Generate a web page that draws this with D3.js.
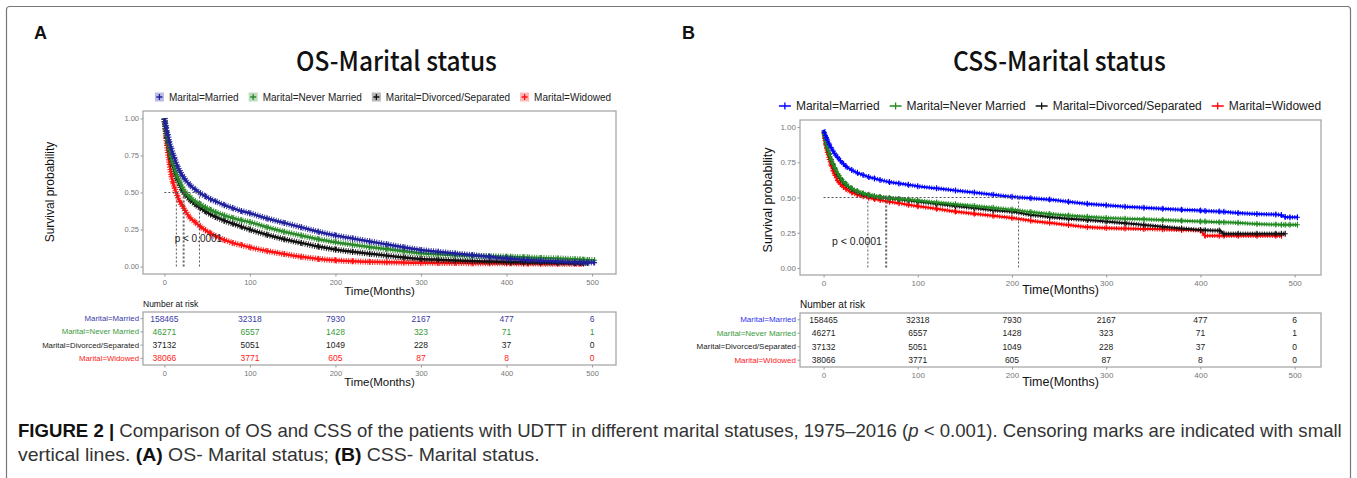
<!DOCTYPE html>
<html lang="en">
<head>
<meta charset="UTF-8">
<title>OS / CSS - Marital status</title>
<script src="https://cdnjs.cloudflare.com/ajax/libs/d3/7.8.5/d3.min.js"></script>
<style>
  html, body { margin: 0; padding: 0; background: #fff; }
  svg { display: block; font-family: "Liberation Sans", Arial, sans-serif; }
</style>
</head>
<body>
<svg id="chart" width="1357" height="478"></svg>
<script>
// ---------- data ----------
const groups = ["Marital=Married", "Marital=Never Married", "Marital=Divorced/Separated", "Marital=Widowed"];

// months at which survival was read
const timeGrid = [0, 1, 2, 3, 4, 6, 8, 10, 12, 15, 18, 21, 24, 30, 36, 42, 48, 54, 60, 70, 80, 90, 100,
  120, 140, 160, 180, 200, 220, 240, 260, 280, 300, 320, 340, 360, 380, 400, 405, 420, 425, 440, 460, 480, 486, 490, 495, 503];

// overall survival
const osMarried = [1.0, 0.97, 0.94, 0.91, 0.89, 0.84, 0.80, 0.76, 0.73, 0.68, 0.645, 0.615, 0.59, 0.55, 0.52, 0.495, 0.475, 0.455, 0.44, 0.415, 0.395, 0.375, 0.36,
  0.325, 0.295, 0.265, 0.235, 0.21, 0.19, 0.17, 0.15, 0.13, 0.112, 0.1, 0.088, 0.078, 0.066, 0.055, 0.053, 0.046, 0.044, 0.04, 0.035, 0.03, 0.029, 0.028, 0.027, 0.027];
const osNever = [1.0, 0.955, 0.915, 0.88, 0.85, 0.79, 0.74, 0.70, 0.66, 0.61, 0.57, 0.535, 0.505, 0.47, 0.44, 0.42, 0.40, 0.382, 0.367, 0.345, 0.328, 0.313, 0.30,
  0.265, 0.235, 0.21, 0.185, 0.165, 0.148, 0.132, 0.118, 0.104, 0.09, 0.083, 0.077, 0.073, 0.07, 0.067, 0.066, 0.063, 0.062, 0.058, 0.055, 0.05, 0.048, 0.047, 0.045, 0.043];
const osDivorced = [1.0, 0.95, 0.91, 0.87, 0.84, 0.78, 0.73, 0.68, 0.64, 0.59, 0.55, 0.515, 0.49, 0.45, 0.42, 0.395, 0.373, 0.353, 0.335, 0.31, 0.29, 0.27, 0.25,
  0.215, 0.185, 0.16, 0.135, 0.115, 0.1, 0.087, 0.074, 0.062, 0.052, 0.046, 0.041, 0.037, 0.034, 0.031, 0.03, 0.029, 0.028, 0.027, 0.026, 0.025, 0.025, 0.024, 0.024, null];
const osWidowed = [1.0, 0.93, 0.87, 0.82, 0.77, 0.69, 0.62, 0.57, 0.53, 0.48, 0.44, 0.41, 0.38, 0.33, 0.30, 0.27, 0.245, 0.225, 0.205, 0.18, 0.16, 0.145, 0.13,
  0.105, 0.085, 0.066, 0.052, 0.042, 0.036, 0.032, 0.029, 0.027, 0.026, 0.025, 0.024, 0.023, 0.022, 0.022, 0.022, 0.021, 0.021, 0.02, 0.02, 0.02, 0.02, 0.02, null, null];

// cancer-specific survival
const cssMarried = [0.98, 0.96, 0.94, 0.925, 0.91, 0.88, 0.855, 0.83, 0.81, 0.785, 0.76, 0.74, 0.72, 0.695, 0.675, 0.66, 0.645, 0.635, 0.625, 0.61, 0.60, 0.59, 0.58,
  0.565, 0.55, 0.535, 0.52, 0.505, 0.495, 0.485, 0.47, 0.455, 0.445, 0.435, 0.428, 0.42, 0.413, 0.407, 0.405, 0.40, 0.398, 0.39, 0.383, 0.379, 0.375, 0.362, 0.36, 0.36];
const cssNever = [0.97, 0.94, 0.91, 0.88, 0.855, 0.81, 0.77, 0.74, 0.71, 0.67, 0.64, 0.615, 0.595, 0.565, 0.545, 0.53, 0.52, 0.51, 0.503, 0.496, 0.49, 0.485, 0.478,
  0.465, 0.452, 0.44, 0.427, 0.414, 0.397, 0.383, 0.372, 0.363, 0.355, 0.35, 0.345, 0.34, 0.335, 0.33, 0.329, 0.325, 0.324, 0.32, 0.312, 0.308, 0.307, 0.307, 0.307, 0.307];
const cssDivorced = [0.97, 0.94, 0.91, 0.88, 0.855, 0.81, 0.77, 0.735, 0.705, 0.665, 0.635, 0.61, 0.59, 0.56, 0.54, 0.525, 0.515, 0.507, 0.502, 0.495, 0.488, 0.48, 0.472,
  0.455, 0.44, 0.425, 0.41, 0.40, 0.377, 0.362, 0.35, 0.34, 0.33, 0.318, 0.305, 0.292, 0.28, 0.27, 0.268, 0.265, 0.243, 0.243, 0.243, 0.243, 0.243, 0.243, null, null];
const cssWidowed = [0.96, 0.92, 0.88, 0.85, 0.82, 0.77, 0.73, 0.69, 0.66, 0.62, 0.595, 0.575, 0.56, 0.535, 0.52, 0.508, 0.498, 0.49, 0.482, 0.47, 0.46, 0.448, 0.438,
  0.42, 0.40, 0.385, 0.37, 0.355, 0.335, 0.32, 0.305, 0.29, 0.283, 0.28, 0.277, 0.274, 0.27, 0.267, 0.229, 0.229, 0.229, 0.229, 0.229, 0.229, 0.229, null, null, null];

const osMedians = [41, 23, 22, 14];
const cssMedians = [207, 67, 66, 47];

const riskTimes = [0, 100, 200, 300, 400, 500];
const riskMarried = [158465, 32318, 7930, 2167, 477, 6];
const riskNever = [46271, 6557, 1428, 323, 71, 1];
const riskDivorced = [37132, 5051, 1049, 228, 37, 0];
const riskWidowed = [38066, 3771, 605, 87, 8, 0];

const xTicks = [0, 100, 200, 300, 400, 500];
const yTicks = [0, 0.25, 0.5, 0.75, 1];

const svg = d3.select("#chart");

// outer frame of the figure
svg.append("rect")
  .attr("x", 6.5).attr("y", 6.5).attr("width", 1344).attr("height", 500)
  .attr("rx", 3).attr("fill", "none").attr("stroke", "#777").attr("stroke-width", 1.2);

// squeeze or stretch a text node horizontally so it spans width w
function fitWidth(sel, x0, w) {
  const bw = sel.node().getBBox().width;
  const y0 = +sel.attr("y");
  sel.attr("x", 0).attr("y", 0)
    .attr("transform", `translate(${x0},${y0}) scale(${w / bw},1)`);
}

function drawPanel(p) {
  const g = svg.append("g");
  const x = d3.scaleLinear().domain([-25, 528]).range([p.left, p.right]);
  const y = d3.scaleLinear().domain([-0.05, 1.05]).range([p.bottom, p.top]);
  const series = p.series;

  // panel letter + title
  g.append("text").attr("x", p.letterX).attr("y", 39)
    .attr("font-size", 18).attr("font-weight", "bold").attr("fill", "#111").text(p.letter);
  const title = g.append("text").attr("y", 71)
    .attr("font-family", "'Noto Sans CJK SC', 'Noto Sans', sans-serif")
    .attr("font-size", 27).attr("font-weight", 500).attr("fill", "#111").text(p.title);
  fitWidth(title, p.titleX, p.titleW);

  // legend
  const leg = g.append("g").attr("font-size", p.legendFont).attr("fill", "#222");
  let cx = 0;
  groups.forEach((name, i) => {
    const it = leg.append("g").attr("transform", `translate(${cx},0)`);
    if (p.legendBox) {
      it.append("rect").attr("x", 0).attr("y", -4.5).attr("width", 9).attr("height", 9)
        .attr("fill", p.colors[i]).attr("fill-opacity", 0.3);
      it.append("path").attr("d", "M1.5,0H7.5M4.5,-3V3").attr("stroke", p.colors[i]).attr("stroke-width", 1.3);
    } else {
      it.append("path").attr("d", "M0,0H12M6,-3.5V3.5").attr("stroke", p.colors[i]).attr("stroke-width", 1.3);
    }
    const t = it.append("text").attr("x", p.legendBox ? 14 : 17).attr("dy", "0.35em").text(name);
    cx += (p.legendBox ? 14 : 17) + t.node().getComputedTextLength() + p.legendGap;
  });
  const legW = cx - p.legendGap;
  leg.attr("transform", `translate(${p.legendCenter - legW / 2},${p.legendY})`);

  // plot frame
  g.append("rect").attr("x", p.left).attr("y", p.top)
    .attr("width", p.right - p.left).attr("height", p.bottom - p.top)
    .attr("fill", "#fff").attr("stroke", "#a8a8a8").attr("stroke-width", 1.3);

  // axes
  const ya = g.append("g").attr("transform", `translate(${p.left},0)`)
    .call(d3.axisLeft(y).tickValues(yTicks).tickFormat(d3.format(".2f")).tickSize(2.5).tickPadding(1.5));
  const xa = g.append("g").attr("transform", `translate(0,${p.bottom})`)
    .call(d3.axisBottom(x).tickValues(xTicks).tickSize(2.5).tickPadding(3));
  [ya, xa].forEach(a => {
    a.select(".domain").remove();
    a.selectAll("line").attr("stroke", "#999");
    a.selectAll("text").attr("fill", "#777").attr("font-size", p.tickFont)
      .attr("font-family", "'Liberation Sans', Arial, sans-serif");
  });

  // curves
  const line = d3.line()
    .defined(d => d[1] != null)
    .x(d => x(d[0])).y(d => y(d[1]))
    .curve(d3.curveMonotoneX);
  const cg = g.append("g");
  // draw in reverse so married sits on top like the original
  [3, 2, 1, 0].forEach(i => {
    const pts = timeGrid.map((t, k) => [t, series[i][k]]);
    cg.append("path").attr("d", line(pts)).attr("fill", "none")
      .attr("stroke", p.colors[i]).attr("stroke-width", p.bandW)
      .attr("stroke-dasharray", "1,1.4").attr("opacity", 0.9);
    cg.append("path").attr("d", line(pts)).attr("fill", "none")
      .attr("stroke", p.colors[i]).attr("stroke-width", p.lineW);
    cg.selectAll(null).data(pts.filter(d => d[1] != null && d[0] > 0)).enter()
      .append("path")
      .attr("transform", d => `translate(${x(d[0])},${y(d[1])})`)
      .attr("d", "M-2.5,0H2.5M0,-3V3")
      .attr("stroke", p.colors[i]).attr("stroke-width", 1.1);
  });

  // median lines
  const mg = g.append("g").attr("stroke", "#555").attr("stroke-width", 1)
    .attr("stroke-dasharray", "2,2").attr("fill", "none");
  mg.append("line").attr("x1", x(0)).attr("x2", x(d3.max(p.medians)))
    .attr("y1", y(0.5)).attr("y2", y(0.5));
  p.medians.forEach(m => {
    mg.append("line").attr("x1", x(m)).attr("x2", x(m)).attr("y1", y(0.5)).attr("y2", y(0));
  });

  // p value
  g.append("text").attr("x", x(p.pvalAt[0])).attr("y", y(p.pvalAt[1])).attr("dy", "0.35em")
    .attr("font-size", p.pvalFont).attr("fill", "#222").text("p < 0.0001");

  // axis titles
  g.append("text").attr("x", (p.left + p.right) / 2).attr("y", p.bottom + p.xLabOff)
    .attr("text-anchor", "middle").attr("font-size", p.xLabFont).attr("fill", "#111").text("Time(Months)");
  g.append("text").attr("transform", `translate(${p.yLabX},${p.yLabY}) rotate(-90)`)
    .attr("text-anchor", "middle").attr("font-size", p.yLabFont).attr("fill", "#111").text("Survival probability");

  // ---- number at risk table ----
  const tb = p.table;
  const band = d3.scaleBand().domain(groups).range([tb.top, tb.bottom]);
  g.append("text").attr("x", p.left).attr("y", tb.top - 5)
    .attr("font-size", tb.headFont).attr("fill", "#111").text("Number at risk");
  g.append("rect").attr("x", p.left).attr("y", tb.top)
    .attr("width", p.right - p.left).attr("height", tb.bottom - tb.top)
    .attr("fill", "none").attr("stroke", "#a8a8a8").attr("stroke-width", 1.3);
  const ta = g.append("g").attr("transform", `translate(${p.left},0)`)
    .call(d3.axisLeft(band).tickSize(2.5).tickPadding(1.5));
  ta.select(".domain").remove();
  ta.selectAll("line").attr("stroke", "#999");
  ta.selectAll("text").attr("font-size", tb.labFont)
    .attr("font-family", "'Liberation Sans', Arial, sans-serif")
    .attr("fill", (d, i) => p.labelColors[i]);
  const tx = g.append("g").attr("transform", `translate(0,${tb.bottom})`)
    .call(d3.axisBottom(x).tickValues(xTicks).tickSize(2.5).tickPadding(3));
  tx.select(".domain").remove();
  tx.selectAll("line").attr("stroke", "#999");
  tx.selectAll("text").attr("fill", "#777").attr("font-size", p.tickFont)
    .attr("font-family", "'Liberation Sans', Arial, sans-serif");
  p.risk.forEach((row, i) => {
    g.append("g").selectAll("text").data(row).enter().append("text")
      .attr("x", (d, k) => x(riskTimes[k]))
      .attr("y", band(groups[i]) + band.bandwidth() / 2).attr("dy", "0.35em")
      .attr("text-anchor", "middle").attr("font-size", tb.numFont)
      .attr("fill", p.numColors[i]).text(d => d);
  });
  g.append("text").attr("x", (p.left + p.right) / 2).attr("y", tb.bottom + tb.xLabOff)
    .attr("text-anchor", "middle").attr("font-size", p.xLabFont).attr("fill", "#111").text("Time(Months)");
}

const colA = ["#20209c", "#2a8a2a", "#111111", "#ff1010"];
const colB = ["#0000ff", "#228b22", "#111111", "#ff0000"];

drawPanel({
  letter: "A", letterX: 34, title: "OS-Marital status", titleX: 296, titleW: 201,
  left: 143, right: 616, top: 111, bottom: 274,
  series: [osMarried, osNever, osDivorced, osWidowed], medians: osMedians,
  colors: colA, labelColors: ["#3a3aa6", "#3c9a3c", "#222", "#ff2020"], numColors: ["#3a3aa6", "#3c9a3c", "#222", "#ff2020"],
  legendBox: true, legendFont: 10, legendGap: 10, legendCenter: 383, legendY: 97,
  tickFont: 7.5, bandW: 6, lineW: 2.5, pvalAt: [12, 0.19], pvalFont: 10,
  xLabOff: 21, xLabFont: 11.5, yLabX: 54, yLabY: 192, yLabFont: 12,
  risk: [riskMarried, riskNever, riskDivorced, riskWidowed],
  table: { top: 312, bottom: 365, headFont: 8.5, labFont: 7.8, numFont: 8.5, xLabOff: 21 }
});

drawPanel({
  letter: "B", letterX: 682, title: "CSS-Marital status", titleX: 953, titleW: 213,
  left: 800, right: 1321, top: 120, bottom: 275,
  series: [cssMarried, cssNever, cssDivorced, cssWidowed], medians: cssMedians,
  colors: colB, labelColors: ["#3333ee", "#3c9a3c", "#222", "#ff2020"], numColors: ["#222", "#222", "#222", "#222"],
  legendBox: false, legendFont: 12, legendGap: 10, legendCenter: 1050, legendY: 106,
  tickFont: 8, bandW: 4.5, lineW: 2, pvalAt: [9, 0.19], pvalFont: 10.5,
  xLabOff: 19, xLabFont: 12.5, yLabX: 772, yLabY: 200, yLabFont: 12.5,
  risk: [riskMarried, riskNever, riskDivorced, riskWidowed],
  table: { top: 313, bottom: 367, headFont: 10, labFont: 8, numFont: 8.5, xLabOff: 19 }
});

// ---------- caption ----------
const capFont = "'Liberation Sans Narrow', 'Liberation Sans', Arial, sans-serif";
const cap1 = svg.append("text").attr("y", 437).attr("font-family", capFont).attr("font-size", 17.5).attr("fill", "#333");
cap1.append("tspan").attr("font-weight", "bold").attr("fill", "#111").text("FIGURE 2 | ");
cap1.append("tspan").text("Comparison of OS and CSS of the patients with UDTT in different marital statuses, 1975–2016 (");
cap1.append("tspan").attr("font-style", "italic").text("p");
cap1.append("tspan").text(" < 0.001). Censoring marks are indicated with small");
fitWidth(cap1, 18, 1325);

const cap2 = svg.append("text").attr("y", 461).attr("font-family", capFont).attr("font-size", 17.5).attr("fill", "#333");
cap2.append("tspan").text("vertical lines. ");
cap2.append("tspan").attr("font-weight", "bold").attr("fill", "#111").text("(A)");
cap2.append("tspan").text(" OS- Marital status; ");
cap2.append("tspan").attr("font-weight", "bold").attr("fill", "#111").text("(B)");
cap2.append("tspan").text(" CSS- Marital status.");
fitWidth(cap2, 18, 522);
</script>
</body>
</html>
